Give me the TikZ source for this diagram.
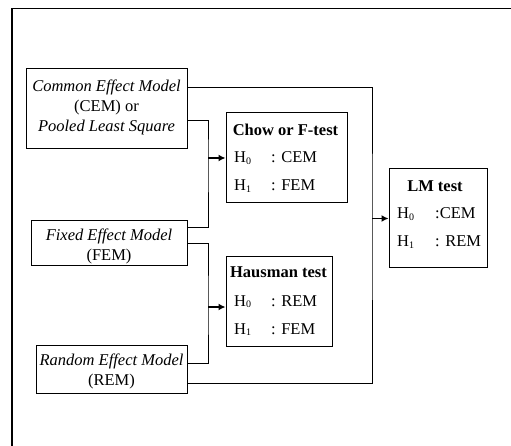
\documentclass[tikz,border=0pt]{standalone}
\usepackage{fontspec}
\setmainfont{Liberation Serif}
\usetikzlibrary{arrows.meta}
\newcommand{\mysub}[1]{\raisebox{-1.5pt}{\fontsize{10}{10}\selectfont #1}}
\begin{document}
\begin{tikzpicture}[x=1pt,y=-1pt,
  box/.style={draw,line width=1pt,inner sep=0pt},
  txt/.style={inner sep=0pt,font=\fontsize{16.5}{20}\selectfont},
  hl/.style={inner sep=0pt,anchor=base west,font=\fontsize{16.5}{20}\selectfont},
  conn/.style={line width=1pt},
  arr/.style={line width=1.6pt,-{Latex[length=7pt,width=7pt]}}]
\useasboundingbox (0,0) rectangle (511,446);
% page frame
\draw[line width=1.3pt] (12,446) -- (12,8.5);
\draw[line width=1.8pt] (11.4,8.5) -- (511,8.5);
% model boxes
\node[box,minimum width=161pt,minimum height=80pt] (cem) at (106.5,109) {};
\node[txt,align=center] (cemt) at (106.5,107) {\itshape Common Effect Model\\(CEM) or\\\itshape Pooled Least Square};
\node[box,minimum width=156pt,minimum height=45pt] (fem) at (109,243.5) {};
\node[txt,align=center] (femt) at (109,246) {\itshape Fixed Effect Model\\(FEM)};
\node[box,minimum width=151pt,minimum height=48pt] (rem) at (111.5,369) {};
\node[txt,align=center] (remt) at (111.5,371) {\itshape Random Effect Model\\(REM)};
% test boxes
\node[box,minimum width=121pt,minimum height=90pt] (chow) at (286.5,158) {};
\node[txt] (chowt) at (285.5,130) {\bfseries Chow or F-test};
\node[hl] (chow0) at (234,163) {H\mysub{0}};
\node[hl] (chow0b) at (271,163) {: CEM};
\node[hl] (chow1) at (234,191) {H\mysub{1}};
\node[hl] (chow1b) at (271,191) {: FEM};
\node[box,minimum width=106pt,minimum height=89pt] (haus) at (279,301.5) {};
\node[txt] (haust) at (278.5,272) {\bfseries Hausman test};
\node[hl] (haus0) at (234,306) {H\mysub{0}};
\node[hl] (haus0b) at (271,306) {: REM};
\node[hl] (haus1) at (234,334) {H\mysub{1}};
\node[hl] (haus1b) at (271,334) {: FEM};
\node[box,minimum width=98pt,minimum height=99pt] (lm) at (438,218.5) {};
\node[txt] (lmt) at (435,186) {\bfseries LM test};
\node[hl] (lm0) at (397,219) {H\mysub{0}};
\node[hl] (lm0b) at (435,219) {:CEM};
\node[hl] (lm1) at (397,247) {H\mysub{1}};
\node[hl] (lm1b) at (435,247) {: REM};
% junctions
\coordinate (j1) at (208,158);
\coordinate (j2) at (208,307);
\coordinate (j3) at (372,218.5);
% connectors
\draw[conn] ([yshift=-12pt]cem.east) -| (j1) |- ([yshift=15.5pt]fem.east);
\draw[conn] ([yshift=-0.5pt]fem.east) -| (j2) |- ([yshift=6pt]rem.east);
\draw[conn] ([yshift=21pt]cem.east) -| (j3) |- ([yshift=-14pt]rem.east);
\draw[arr] (j1) -- (chow.west);
\draw[arr] (j2) -- (haus.west |- j2);
\draw[arr] (j3) -- (lm.west);
\end{tikzpicture}
\end{document}
